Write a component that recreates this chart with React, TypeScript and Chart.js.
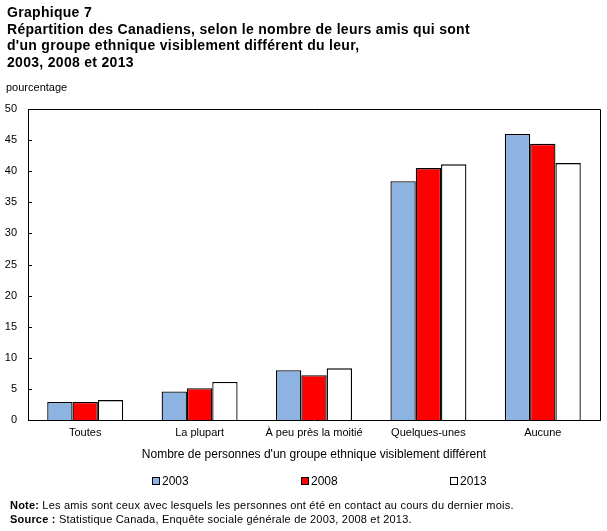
import React, { useEffect, useRef } from "react";
import { Chart, registerables } from "chart.js";

Chart.register(...registerables);

const categories = [
  "Toutes",
  "La plupart",
  "À peu près la moitié",
  "Quelques-unes",
  "Aucune",
];
const years = ["2003", "2008", "2013"];
const values2003 = [2.9, 4.6, 8.0, 38.4, 46.0];
const values2008 = [2.9, 5.1, 7.2, 40.5, 44.4];
const values2013 = [3.2, 6.1, 8.3, 41.1, 41.3];
const yTicks = [0, 5, 10, 15, 20, 25, 30, 35, 40, 45, 50];
const colors = ["#8db3e2", "#ff0000", "#ffffff"];

const FONT = '"Liberation Sans", Arial, sans-serif';

// Frame around the plot area plus short inward tick marks on the value axis
const framePlugin = {
  id: "frame",
  afterDatasetsDraw(chart: any) {
    const { ctx, chartArea } = chart;
    const y = chart.scales.y;
    ctx.save();
    ctx.strokeStyle = "#000";
    ctx.lineWidth = 1;
    ctx.beginPath();
    ctx.moveTo(chartArea.left, chartArea.top + 0.5);
    ctx.lineTo(chartArea.right + 0.5, chartArea.top + 0.5);
    ctx.lineTo(chartArea.right + 0.5, chartArea.bottom);
    ctx.stroke();
    for (const t of yTicks) {
      const py = Math.round(y.getPixelForValue(t)) + 0.5;
      ctx.beginPath();
      ctx.moveTo(chartArea.left, py);
      ctx.lineTo(chartArea.left + 4, py);
      ctx.stroke();
    }
    ctx.restore();
  },
};

function BarChart() {
  const ref = useRef<HTMLCanvasElement>(null);
  useEffect(() => {
    if (!ref.current) return;
    const series = [values2003, values2008, values2013];
    const chart = new Chart(ref.current, {
      type: "bar",
      data: {
        labels: categories,
        datasets: years.map((yr, i) => ({
          label: yr,
          data: series[i],
          backgroundColor: colors[i],
          borderColor: "#000",
          borderWidth: 1.3,
          categoryPercentage: 0.664,
          barPercentage: 1,
        })),
      },
      options: {
        responsive: false,
        animation: false,
        devicePixelRatio: 1,
        layout: { padding: { left: 0, top: 109, right: 7, bottom: 66 } },
        plugins: {
          legend: { display: false },
          tooltip: { enabled: false },
        },
        scales: {
          x: {
            grid: { display: false, drawTicks: false },
            border: { display: true, color: "#000", width: 1 },
            ticks: {
              color: "#000",
              padding: 6,
              maxRotation: 0,
              autoSkip: false,
              font: { family: FONT, size: 11 },
            },
            title: {
              display: true,
              text: "Nombre de personnes d'un groupe ethnique visiblement différent",
              color: "#000",
              font: { family: FONT, size: 12 },
              padding: { top: 4, bottom: 3 },
            },
            afterFit(scale: any) {
              scale.height = 45;
            },
          },
          y: {
            min: 0,
            max: 50,
            grid: { display: false, drawTicks: false },
            border: { display: true, color: "#000", width: 1 },
            afterBuildTicks(scale: any) {
              scale.ticks = yTicks.map((v) => ({ value: v }));
            },
            ticks: {
              color: "#000",
              padding: 11,
              font: { family: FONT, size: 11 },
            },
            afterFit(scale: any) {
              scale.width = 28;
            },
          },
        },
      },
      plugins: [framePlugin],
    });
    return () => chart.destroy();
  }, []);
  return (
    <canvas
      ref={ref}
      width={607}
      height={531}
      style={{ position: "absolute", left: 0, top: 0, width: 607, height: 531 }}
    />
  );
}

const titleLines = [
  "Graphique 7",
  "Répartition des Canadiens, selon le nombre de leurs amis qui sont",
  "d'un groupe ethnique visiblement différent du leur,",
  "2003, 2008 et 2013",
];

const legendLeft = [152, 301, 450];

export default function App() {
  return (
    <div
      style={{
        position: "absolute",
        left: 0,
        top: 0,
        width: 607,
        height: 531,
        background: "#fff",
        fontFamily: FONT,
        color: "#000",
        overflow: "hidden",
      }}
    >
      <BarChart />
      <div
        style={{
          position: "absolute",
          left: 7,
          top: 4,
          fontWeight: "bold",
          fontSize: 14,
          letterSpacing: 0.3,
          lineHeight: "16.7px",
        }}
      >
        {titleLines.map((l) => (
          <div key={l}>{l}</div>
        ))}
      </div>
      <div style={{ position: "absolute", left: 6, top: 81, fontSize: 11 }}>
        pourcentage
      </div>
      {years.map((yr, i) => (
        <div
          key={yr}
          style={{
            position: "absolute",
            left: legendLeft[i],
            top: 474,
            height: 14,
            display: "flex",
            alignItems: "center",
            fontSize: 12,
          }}
        >
          <span
            style={{
              display: "inline-block",
              width: 6,
              height: 6,
              background: colors[i],
              border: "1px solid #000",
              marginRight: 2,
            }}
          />
          <span>{yr}</span>
        </div>
      ))}
      <div
        style={{
          position: "absolute",
          left: 10,
          top: 498,
          fontSize: 11,
          letterSpacing: 0.2,
          lineHeight: "14px",
        }}
      >
        <div>
          <b>Note:</b> Les amis sont ceux avec lesquels les personnes ont été en
          contact au cours du dernier mois.
        </div>
        <div>
          <b>Source :</b> Statistique Canada, Enquête sociale générale de 2003,
          2008 et 2013.
        </div>
      </div>
    </div>
  );
}
